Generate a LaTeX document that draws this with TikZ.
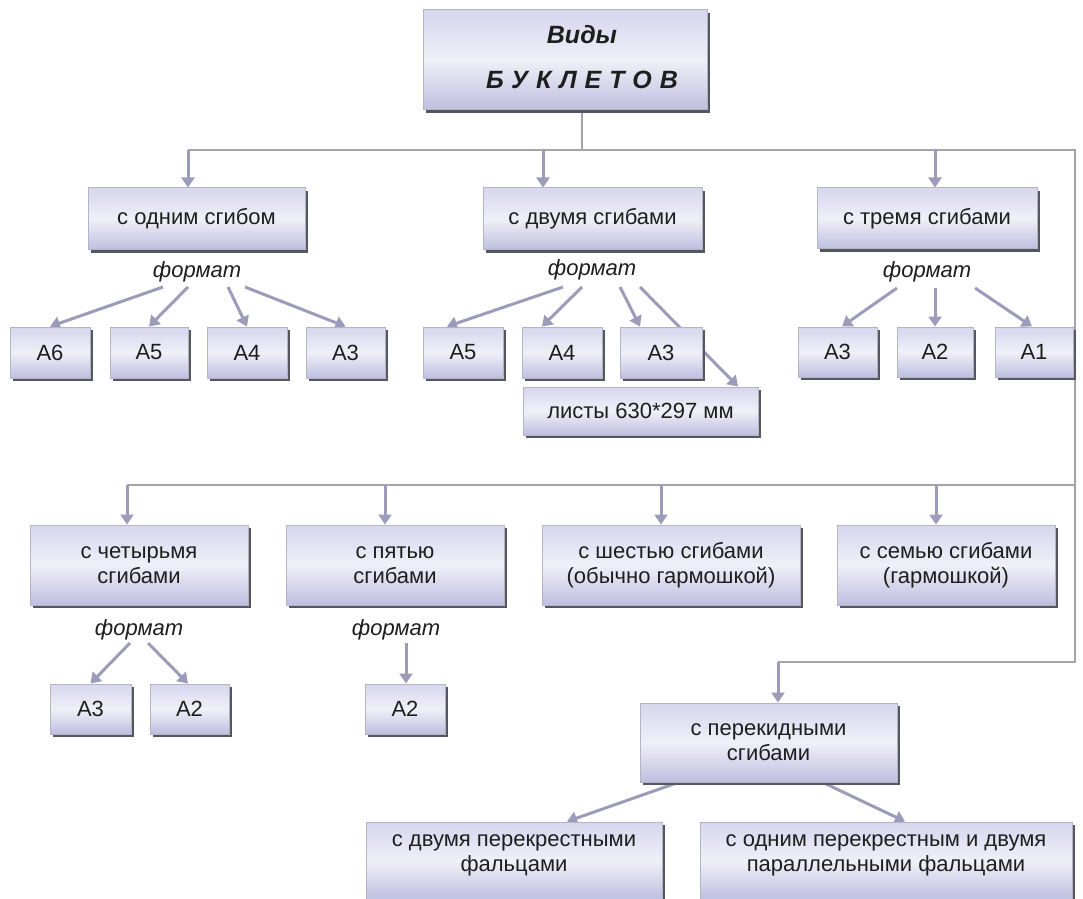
\documentclass[tikz,border=0pt]{standalone}
\usepackage{fontspec}
\setmainfont{Liberation Sans}
\newfontfamily\spacedfont[LetterSpace=32]{Liberation Sans}
\usetikzlibrary{shadows,arrows.meta,calc}
\pgfdeclarelayer{back}
\pgfdeclarelayer{bg}
\pgfsetlayers{back,bg,main}
\definecolor{connc}{HTML}{A4A4A8}
\definecolor{arrc}{HTML}{9C9CBA}
\definecolor{shad}{HTML}{56565E}
\definecolor{bxtop}{HTML}{D6D6EE}
\definecolor{bxmid}{HTML}{F0F0F8}
\definecolor{bxbot}{HTML}{BEBEE0}
\definecolor{bxline}{HTML}{B4B4C4}
\definecolor{txt}{HTML}{1E1E1E}
\begin{document}
\begin{tikzpicture}[x=0.5pt,y=-0.5pt,
  box/.style 2 args={draw=bxline, line width=0.5pt,
    top color=bxtop, bottom color=bxbot, middle color=bxmid,
    minimum width=#1*0.5pt, minimum height=#2*0.5pt, inner sep=0pt,
    align=center, text=txt, font=\fontsize{11}{12.5}\selectfont,
    drop shadow={shadow xshift=1.6pt, shadow yshift=-1.6pt, fill=shad, opacity=1}},
  lbl/.style={inner sep=0pt, align=center, text=txt, font=\fontsize{11}{12.5}\selectfont},
  fmt/.style={inner sep=0pt, text=txt, font=\fontsize{11}{13}\selectfont\itshape},
  ttl/.style={inner sep=0pt, text=txt, anchor=base, font=\fontsize{12.5}{14}\selectfont\bfseries\itshape},
  arr/.style={draw=arrc, line width=1.5pt, -{Triangle[length=5pt,width=6.5pt]}},
  conn/.style={draw=connc, line width=0.75pt}]
\useasboundingbox (0,0) rectangle (1083,899);
\clip (0,0) rectangle (1083,899);
\begin{pgfonlayer}{back}
\fill[white] (0,0) rectangle (1083,899);
\end{pgfonlayer}

% title
\node[box={284}{100}] (top) at (565,60) {};
\node[ttl] (t1) at (582,44) {Виды};
\node[ttl] (t2) at (582,89) {\spacedfont БУКЛЕТОВ};

% first row
\node[box={217}{62}] (b1) at (196.5,219) {с одним сгибом};
\node[box={219}{62}] (b2) at (592.5,219) {с двумя сгибами};
\node[box={220}{61}] (b3) at (927,218.5) {с тремя сгибами};
\node[fmt] (f1) at (197,272) {формат};
\node[fmt] (f2) at (592,270) {формат};
\node[fmt] (f3) at (927,272) {формат};

\node[box={80}{51}] (a16) at (50,352.5) {A6};
\node[box={78}{51}] (a15) at (149,352.5) {A5};
\node[box={80}{51}] (a14) at (247,352.5) {A4};
\node[box={79}{51}] (a13) at (345.5,352.5) {A3};
\node[box={80}{51}] (a25) at (463,352.5) {A5};
\node[box={80}{51}] (a24) at (562,352.5) {A4};
\node[box={82}{51}] (a23) at (661,352.5) {A3};
\node[box={235}{48}] (lst) at (640.5,411) {листы 630*297 мм};
\node[box={79}{50}] (a33) at (837.5,352) {A3};
\node[box={76}{50}] (a32) at (935,352) {A2};
\node[box={78}{50}] (a31) at (1034,352) {A1};

% second row
\node[box={218}{80}] (c4) at (139,565) {с четырьмя\\сгибами};
\node[box={218}{80}] (c5) at (395,565) {с пятью\\сгибами};
\node[box={258}{80}] (c6) at (671,565) {с шестью сгибами\\(обычно гармошкой)};
\node[box={218}{80}] (c7) at (946,565) {с семью сгибами\\(гармошкой)};
\node[fmt] (f4) at (139,630) {формат};
\node[fmt] (f5) at (396,630) {формат};
\node[box={81}{50}] (d3) at (90.5,709) {A3};
\node[box={79}{50}] (d2) at (189.5,709) {A2};
\node[box={80}{50}] (e2) at (405,709) {A2};

% third part
\node[box={257}{79}] (p) at (768.5,742.5) {с перекидными\\сгибами};
\node[box={296}{78}] (l1) at (514,861) {};
\node[lbl] (l1t) at (514,855) {с двумя перекрестными\\фальцами};
\node[box={372}{78}] (l2) at (886,861) {};
\node[lbl] (l2t) at (886,855) {с одним перекрестным и двумя\\параллельными фальцами};

% junction coordinates
\coordinate (j0) at (582,150);
\coordinate (h1l) at (188,150);
\coordinate (s2) at (543,150);
\coordinate (s3) at (935,150);
\coordinate (r1) at (1075,150);
\coordinate (r2) at (1075,485);
\coordinate (r3) at (1075,662);
\coordinate (h2l) at (127,485);
\coordinate (u5) at (385,485);
\coordinate (u6) at (661,485);
\coordinate (u7) at (936,485);
\coordinate (p0) at (778,662);

\begin{pgfonlayer}{bg}
\draw[conn] (top.south -| j0) -- (j0);
\draw[conn] (h1l) -- (r1) -- (r3) -- (p0);
\draw[conn] (h2l) -- (r2);
\draw[arr] (h1l) -- (h1l |- b1.north);
\draw[arr] (s2) -- (s2 |- b2.north);
\draw[arr] (s3) -- (s3 |- b3.north);
\draw[arr] (h2l) -- (h2l |- c4.north);
\draw[arr] (u5) -- (u5 |- c5.north);
\draw[arr] (u6) -- (u6 |- c6.north);
\draw[arr] (u7) -- (u7 |- c7.north);
\draw[arr] (p0) -- (p0 |- p.north);

\draw[arr] ([shift={(-34,15)}]f1.center) -- (a16.north);
\draw[arr] ([shift={(-9,15)}]f1.center) -- (a15.north);
\draw[arr] ([shift={(31,15)}]f1.center) -- (a14.north);
\draw[arr] ([shift={(48,15)}]f1.center) -- (a13.north);

\draw[arr] ([shift={(-29,17)}]f2.center) -- ([shift={(-16,0)}]a25.north);
\draw[arr] ([shift={(-10,17)}]f2.center) -- ([shift={(-20,0)}]a24.north);
\draw[arr] ([shift={(28,17)}]f2.center) -- ([shift={(-21,0)}]a23.north);
\draw[arr] ([shift={(48,17)}]f2.center) -- ([shift={(97.5,0)}]lst.north);

\draw[arr] ([shift={(-30,16)}]f3.center) -- ([shift={(4.5,0)}]a33.north);
\draw[arr] ([shift={(8,16)}]f3.center) -- (a32.north);
\draw[arr] ([shift={(48,16)}]f3.center) -- ([shift={(-2,0)}]a31.north);

\draw[arr] ([shift={(-9,13)}]f4.center) -- (d3.north);
\draw[arr] ([shift={(9,13)}]f4.center) -- ([shift={(-1.5,0)}]d2.north);
\draw[arr] ([shift={(10,13)}]f5.center) -- ([shift={(1,0)}]e2.north);

\draw[arr] ([shift={(-90.5,0)}]p.south) -- ([shift={(53,0)}]l1.north);
\draw[arr] ([shift={(54.5,0)}]p.south) -- ([shift={(19,0)}]l2.north);
\end{pgfonlayer}
\end{tikzpicture}
\end{document}
